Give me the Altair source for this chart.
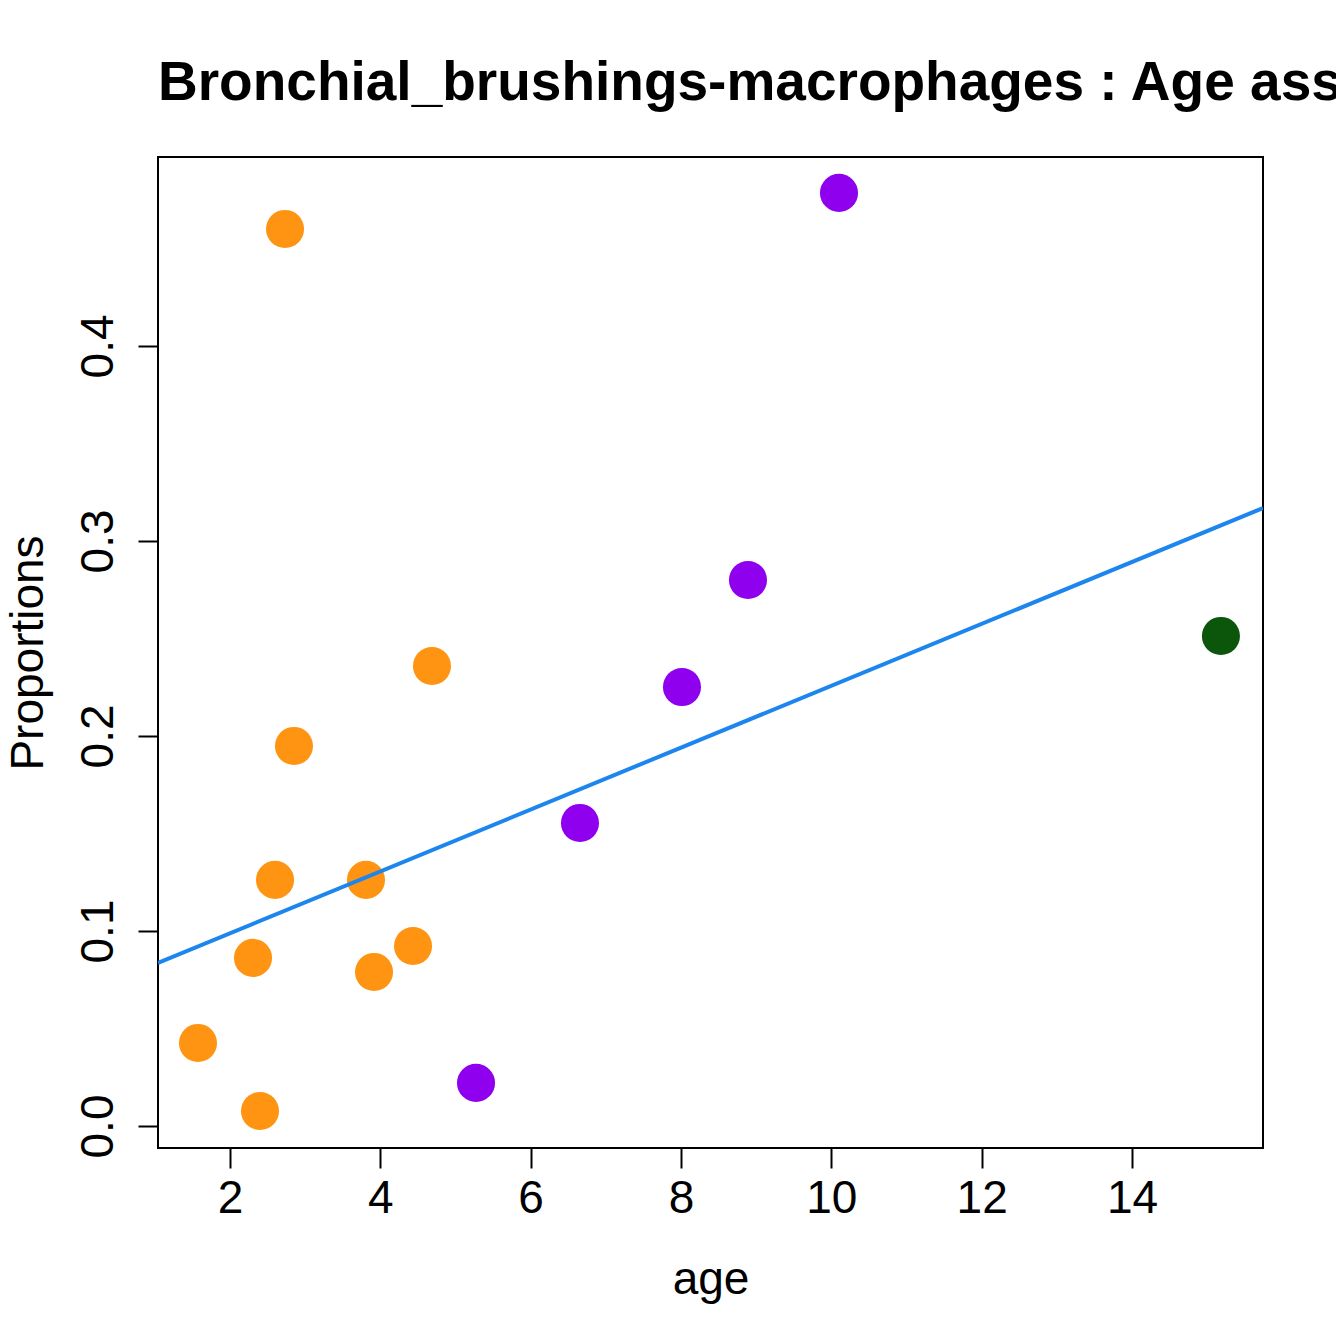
import altair as alt
import pandas as pd

# Data
age = [1.574, 2.399, 2.306, 2.599, 2.732, 2.851, 3.809, 3.916, 4.435, 4.687,
       5.273, 6.656, 8.013, 8.891, 10.102,
       15.183]
proportion = [0.0426, 0.0077, 0.0862, 0.1262, 0.4600, 0.1949, 0.1262, 0.0790, 0.0923, 0.2359,
              0.0221, 0.1554, 0.2251, 0.2800, 0.4785,
              0.2513]
point_color = ["#FF9412"] * 10 + ["#8F00EE"] * 5 + ["#0B560B"]

line_age = [1.042, 15.743]
line_prop = [0.0836, 0.3169]

x_ticks = [2, 4, 6, 8, 10, 12, 14]
y_ticks = [0.0, 0.1, 0.2, 0.3, 0.4]

x_domain = [1.042, 15.743]
y_domain = [-0.01128, 0.4969]

pts = pd.DataFrame({"age": age, "Proportions": proportion, "col": point_color})
ln = pd.DataFrame({"age": line_age, "Proportions": line_prop})

FONT = "Liberation Sans"
W, H = 1105, 991

x_enc = alt.X("age:Q",
              scale=alt.Scale(domain=x_domain, nice=False, zero=False),
              axis=alt.Axis(values=x_ticks, format="d", title="age",
                            domain=False, grid=False,
                            tickSize=20, tickWidth=2, tickColor="black",
                            labelFont=FONT, labelFontSize=46, labelColor="black",
                            labelPadding=8, labelFlush=False,
                            titleFont=FONT, titleFontSize=46, titleFontWeight="normal",
                            titleColor="black", titleBaseline="alphabetic",
                            titleX=W / 2, titleY=145, titleAlign="center"))
y_enc = alt.Y("Proportions:Q",
              scale=alt.Scale(domain=y_domain, nice=False, zero=False),
              axis=alt.Axis(values=y_ticks, format=".1f", title="Proportions",
                            domain=False, grid=False,
                            tickSize=20, tickWidth=2, tickColor="black",
                            labelFont=FONT, labelFontSize=46, labelColor="black",
                            labelAngle=270, labelAlign="center", labelBaseline="alphabetic",
                            labelPadding=26, labelFlush=False,
                            titleFont=FONT, titleFontSize=46, titleFontWeight="normal",
                            titleColor="black", titleAngle=270, titleBaseline="alphabetic",
                            titleAlign="center", titleX=-116, titleY=H / 2))

points = alt.Chart(pts).mark_circle(size=1450, opacity=1).encode(
    x=x_enc, y=y_enc, color=alt.Color("col:N", scale=None, legend=None)
)

line = alt.Chart(ln).mark_line(color="#1C86EE", strokeWidth=4, clip=True).encode(
    x=alt.X("age:Q", scale=alt.Scale(domain=x_domain, nice=False, zero=False)),
    y=alt.Y("Proportions:Q", scale=alt.Scale(domain=y_domain, nice=False, zero=False)),
)

chart = (points + line).properties(
    width=W, height=H,
    padding={"left": 150, "top": 149, "right": 73, "bottom": 188},
    autosize=alt.AutoSizeParams(type="none"),
    title=alt.TitleParams(
        "Bronchial_brushings-macrophages : Age associated proportions change",
        anchor="start", frame="group", font=FONT, fontSize=55, fontWeight="bold",
        color="black", baseline="alphabetic", offset=57, dy=55, orient="top",
    ),
).configure(
    background="white",
    view=alt.ViewConfig(stroke="black", strokeWidth=2),
)

chart.save("out.html", embed_options={"renderer": "svg", "actions": False})
